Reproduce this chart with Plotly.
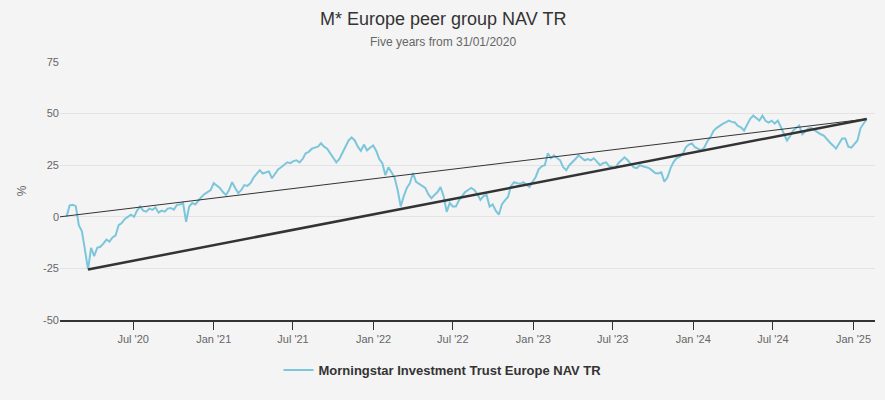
import pandas as pd
import plotly.graph_objects as go

# ---- data ----
start_date = "2020-01-31"
nav_tr = [
    0, 5.5, 5.8, 5.2, -4, -7, -16, -25.5, -15, -19,
    -15, -14.5, -13, -11, -12, -10, -9, -4, -3, -1,
    0, 1, 0, 3, 5, 3, 2.5, 4, 3.4, 4.5,
    2, 3, 2.5, 4, 4.3, 3.5, 5.8, 6, 6.7, -2.4,
    5, 6.7, 6, 8, 9.6, 11, 12, 13, 16.3, 15,
    14, 12, 10.6, 13, 16.8, 14, 11.5, 13, 15.4, 15,
    16.3, 19, 21, 22.6, 21, 21.6, 22, 18.7, 21, 23,
    24, 25, 26.4, 26, 27, 27.4, 26.4, 28, 30.8, 31.5,
    33, 33.5, 34, 35.6, 34, 33, 31, 29, 26.4, 28,
    31, 33.7, 37, 38.5, 37, 34, 32, 35, 32.2, 33.5,
    34.6, 32, 28, 26, 20.2, 24, 21.2, 19, 13, 5,
    10, 14, 16.3, 21.2, 17, 16, 15.4, 14, 11, 9,
    10.6, 12, 14.4, 10, 2.4, 6.7, 5, 5, 8, 10,
    12, 13, 14, 13, 11, 8.2, 10, 10.6, 5, 6,
    3, 1, 6, 8, 9.6, 15, 16.8, 16.3, 16, 16.8,
    15.5, 14.4, 17, 19.2, 23, 24.5, 25, 30.8, 28.4, 29.8,
    28.5, 27.4, 24, 22.6, 25, 26.4, 28, 29.8, 28.5, 27.4,
    28, 27.4, 28.4, 26.5, 25, 26, 26.4, 24.5, 24, 23.6,
    26, 27.4, 28.8, 27.5, 26, 24, 23.6, 25, 24.5, 24,
    23.6, 22.5, 21.2, 21, 21.6, 17, 19, 23.5, 26.5, 28.4,
    29, 30.5, 33.7, 35, 35.6, 33.7, 33, 32.2, 33.5, 36.5,
    38.5, 41.5, 43, 44.2, 45, 45.7, 46.6, 46, 45.7, 44,
    43.3, 41.8, 44.5, 47.5, 49, 47.6, 46.6, 49, 46.5, 45.7,
    46.6, 45.2, 46.6, 43.5, 40.4, 37, 39, 41.8, 43, 44.2,
    40, 41.5, 42.8, 43, 42, 40.9, 40, 39.4, 37.5, 36,
    34.6, 33, 35.5, 38, 38, 34, 33.5, 35, 37, 43,
    45.2, 47.4,
]
dates = pd.date_range(start_date, periods=len(nav_tr), freq="7D")

series_name = "Morningstar Investment Trust Europe NAV TR"
axis_start = "2020-01-16"
axis_end = "2025-02-19"
tick_dates = ["2020-07-01", "2021-01-01", "2021-07-01", "2022-01-01", "2022-07-01",
              "2023-01-01", "2023-07-01", "2024-01-01", "2024-07-01", "2025-01-01"]
tick_labels = ["Jul '20", "Jan '21", "Jul '21", "Jan '22", "Jul '22",
               "Jan '23", "Jul '23", "Jan '24", "Jul '24", "Jan '25"]
y_ticks = [-50, -25, 0, 25, 50, 75]
y_tick_labels = ["-50", "-25", "0", "25", "50", "75"]

# trend lines: from axis start (0%) to end, and from the low to end
low_idx = min(range(len(nav_tr)), key=lambda i: nav_tr[i])
thin_x = [axis_start, dates[-1]]
thin_y = [0, nav_tr[-1]]
thick_x = [dates[low_idx], dates[-1]]
thick_y = [nav_tr[low_idx], nav_tr[-1]]

fig = go.Figure()
fig.add_trace(go.Scatter(x=dates, y=nav_tr, mode="lines", name=series_name,
                         line=dict(color="#7cc6dc", width=2), hoverinfo="skip"))
fig.add_trace(go.Scatter(x=thin_x, y=thin_y, mode="lines", showlegend=False,
                         line=dict(color="#333333", width=1), hoverinfo="skip"))
fig.add_trace(go.Scatter(x=thick_x, y=thick_y, mode="lines", showlegend=False,
                         line=dict(color="#333333", width=2.5), hoverinfo="skip"))

font_family = "Liberation Sans, Arial, sans-serif"
fig.update_layout(
    width=885, height=400,
    paper_bgcolor="#f4f4f4", plot_bgcolor="#f4f4f4",
    margin=dict(l=60, r=10, t=62, b=76),
    font=dict(family=font_family, color="#666666", size=11),
    showlegend=True,
    legend=dict(orientation="h", xref="container", x=0.5, xanchor="center",
                yref="container", y=(400 - 370) / 400, yanchor="middle",
                font=dict(size=13, color="#333333", family=font_family, weight="bold"),
                itemwidth=30),
    xaxis=dict(type="date", range=[axis_start, axis_end],
               tickvals=tick_dates, ticktext=tick_labels,
               showgrid=False, showline=True, linecolor="#333333", linewidth=1.5,
               ticks="outside", ticklen=8, tickcolor="#333333", tickwidth=1,
               tickfont=dict(size=11, color="#666666"), zeroline=False),
    yaxis=dict(range=[-50, 75], tickvals=y_ticks, ticktext=y_tick_labels,
               showgrid=True, gridcolor="#e3e3e3", gridwidth=1,
               zeroline=False, showline=False, ticks="",
               tickfont=dict(size=11, color="#666666"),
               title=dict(text="%", font=dict(size=12, color="#666666"), standoff=13)),
    annotations=[
        dict(text="M* Europe peer group NAV TR", xref="paper", yref="paper",
             x=(442.5 - 60) / 815, y=(322 - 18) / 261, xanchor="center", yanchor="middle",
             showarrow=False, font=dict(size=18, color="#333333", family=font_family)),
        dict(text="Five years from 31/01/2020", xref="paper", yref="paper",
             x=(442.5 - 60) / 815, y=(322 - 41) / 261, xanchor="center", yanchor="middle",
             showarrow=False, font=dict(size=12, color="#666666", family=font_family)),
    ],
)

fig.write_html("out.html", config={"displayModeBar": False},
               post_script="document.body.style.margin='0';document.body.style.background='#f4f4f4';")
